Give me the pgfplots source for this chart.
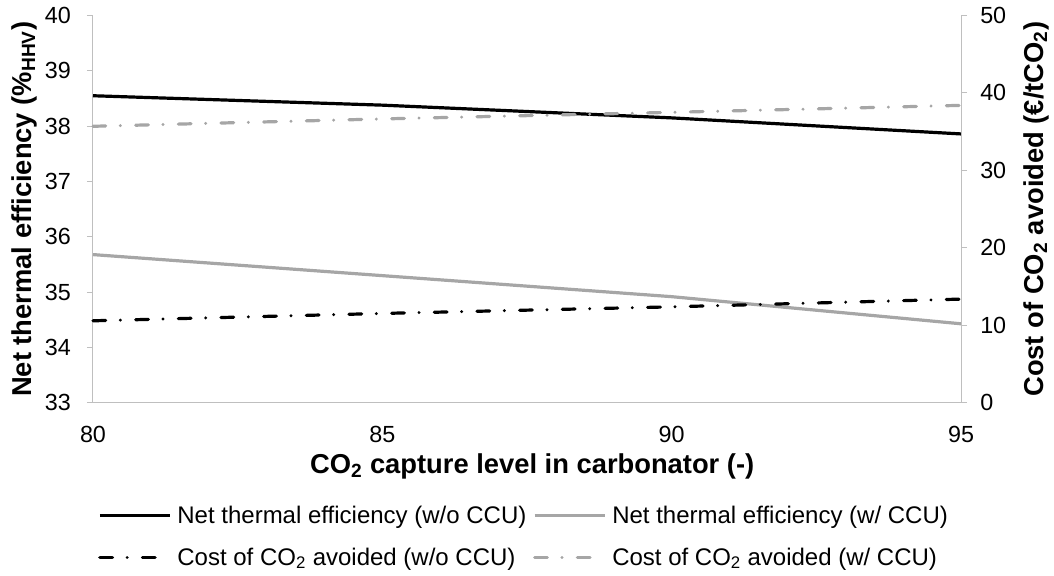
\documentclass[border=0pt]{standalone}
\usepackage{fontspec}
\setmainfont{Liberation Sans}
\usepackage{pgfplots}
\pgfplotsset{compat=1.18}
\definecolor{axgray}{HTML}{BFBFBF}
\definecolor{lgray}{HTML}{A6A6A6}
\tikzset{dashdotx/.style={dash pattern=on 9.5pt off 11pt on 0.01pt off 11.5pt, line cap=round}}
\begin{document}
\begin{tikzpicture}
\pgfplotsset{
 base/.style={
  scale only axis, width=651pt, height=290.6pt,
  xmin=80, xmax=95,
  axis line style={axgray, line width=0.75pt},
  tick style={axgray, line width=0.75pt},
  tick align=outside,
  major tick length=4.5pt,
  /pgf/number format/assume math mode=true,
  ticklabel style={font=\fontsize{17.5}{20}\selectfont, text=black},
  clip=false,
 }
}
\begin{axis}[base,
  axis x line*=bottom, axis y line*=left,
  ymin=33, ymax=40, ytick={33,34,...,40},
  xtick={80,85,90,95},
  xtick style={draw=none},
  yticklabel style={inner sep=0pt, xshift=-12pt},
  xticklabel style={inner sep=0pt, yshift=-12.5pt},
  xlabel={CO\textsubscript{2} capture level in carbonator (-)},
  ylabel={Net thermal efficiency (\%\textsubscript{HHV})},
  every axis x label/.style={at={(axis description cs:0.506,-0.1626)}, anchor=center, font=\bfseries\fontsize{20.5}{24}\selectfont},
  every axis y label/.style={at={(axis description cs:-0.0795,0.5)}, anchor=center, rotate=90, font=\bfseries\fontsize{20.5}{24}\selectfont},
]
\addplot[black, line width=2.4pt] coordinates {(80,38.55) (85,38.38) (90,38.15) (95,37.86)};
\addplot[lgray, line width=2.4pt] coordinates {(80,35.68) (85,35.30) (90,34.92) (95,34.43)};
\end{axis}
\begin{axis}[base,
  axis y line*=right, axis x line=none,
  ymin=0, ymax=50, ytick={0,10,...,50},
  yticklabel style={inner sep=0pt, xshift=9.75pt},
  ylabel={Cost of CO\textsubscript{2} avoided (€/tCO\textsubscript{2})},
  every axis y label/.style={at={(axis description cs:1.0864,0.5)}, anchor=center, rotate=90, font=\bfseries\fontsize{20.5}{24}\selectfont},
  legend columns=2,
  legend cell align=left,
  legend image code/.code={\draw[#1] (0pt,0pt) -- (52.5pt,0pt);},
  legend style={at={(0.497,-0.3445)}, anchor=center, draw=none, fill=none,
    font=\fontsize{18}{21}\selectfont, row sep=13pt,
    /tikz/every odd column/.append style={column sep=2.5pt},
    /tikz/every even column/.append style={column sep=3pt}},
]
\addlegendimage{black, line width=2.4pt}
\addlegendentry{Net thermal efficiency (w/o CCU)}
\addlegendimage{lgray, line width=2.4pt}
\addlegendentry{Net thermal efficiency (w/ CCU)}
\addplot[black, line width=2.4pt, dashdotx] coordinates {(80,10.6) (85,11.55) (90,12.4) (95,13.4)};
\addlegendentry{Cost of CO\textsubscript{2} avoided (w/o CCU)}
\addplot[lgray, line width=2.4pt, dashdotx] coordinates {(80,35.7) (85,36.65) (90,37.5) (95,38.4)};
\addlegendentry{Cost of CO\textsubscript{2} avoided (w/ CCU)}
\end{axis}
\pgfresetboundingbox
\path (-69.75pt,-129.75pt) rectangle (720.75pt,302.2pt);
\end{tikzpicture}
\end{document}
